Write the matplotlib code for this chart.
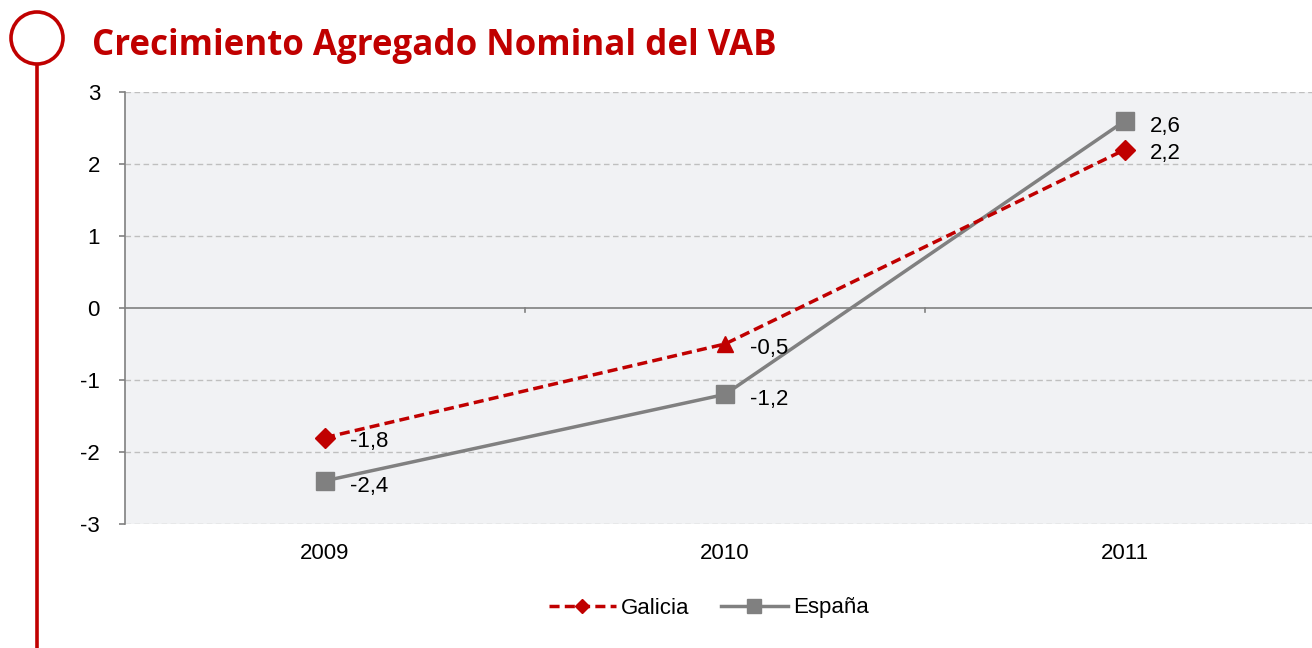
import matplotlib
matplotlib.use("Agg")
import matplotlib.pyplot as plt
from matplotlib.patches import Circle
from matplotlib.lines import Line2D

years = ["2009", "2010", "2011"]
galicia = [-1.8, -0.5, 2.2]
espana = [-2.4, -1.2, 2.6]
galicia_markers = ["D", "^", "D"]
yticks = [-3, -2, -1, 0, 1, 2, 3]

RED = "#C00000"
GRAY = "#808080"
FS = 16

plt.rcParams['font.family'] = ['Liberation Sans', 'DejaVu Sans']

W, H = 1312, 648
fig = plt.figure(figsize=(W / 100, H / 100), dpi=100)

# decoration
deco = fig.add_axes([0, 0, 1, 1], zorder=-1)
deco.set_xlim(0, W)
deco.set_ylim(H, 0)
deco.axis("off")
deco.add_patch(Circle((37, 38), 26, fill=False, edgecolor=RED, lw=2.6))
deco.plot([37, 37], [64, H], color=RED, lw=2.6, solid_capstyle="butt")
fig.text(92 / W, 1 - 55 / H, "Crecimiento Agregado Nominal del VAB",
         color=RED, fontsize=25.1, fontweight="bold", family="Open Sans",
         ha="left", va="baseline")

# main axes
left, right, top, bottom = 125, 1325, 92, 524
ax = fig.add_axes([left / W, 1 - bottom / H, (right - left) / W, (bottom - top) / H])
ax.set_facecolor("#F1F2F4")
x = list(range(len(years)))
ax.set_xlim(-0.5, len(years) - 0.5)
ax.set_ylim(-3, 3)
ax.set_yticks(yticks)
ax.set_yticklabels([str(v) for v in yticks], fontsize=FS)
ax.set_xticks([])
for s in ["top", "right", "bottom"]:
    ax.spines[s].set_visible(False)
ax.spines["left"].set_color(GRAY)
ax.spines["left"].set_linewidth(1.2)
ax.tick_params(axis="y", length=4, color=GRAY, width=1.2, pad=14)
for v in yticks:
    if v != 0:
        ax.axhline(v, color="#BFBFBF", lw=1, ls=(0, (4, 2.5)), zorder=1)
ax.axhline(0, color=GRAY, lw=1.2, zorder=2)
for b in [0.5, 1.5]:
    ax.plot([b, b], [0, -0.06], color=GRAY, lw=1.2, zorder=2)
for xi, yr in zip(x, years):
    ax.text(xi, -3.27, yr, ha="center", va="top", fontsize=FS)

# series
ax.plot(x, espana, color=GRAY, lw=2.5, marker="s", markersize=13,
        markerfacecolor=GRAY, markeredgecolor=GRAY, zorder=3)
ax.plot(x, galicia, color=RED, lw=2.5, ls=(0, (2.9, 1.5)), zorder=4)
for xi, v, m in zip(x, galicia, galicia_markers):
    ax.plot([xi], [v], marker=m, markersize=11 if m == "^" else 10,
            color=RED, zorder=5)

def fmt(v):
    return f"{v:.1f}".replace(".", ",")

for xi, v in zip(x, galicia):
    ax.annotate(fmt(v), (xi, v), xytext=(18, -3), textcoords="offset points",
                ha="left", va="center", fontsize=FS)
for xi, v in zip(x, espana):
    ax.annotate(fmt(v), (xi, v), xytext=(18, -4), textcoords="offset points",
                ha="left", va="center", fontsize=FS)

handles = [
    Line2D([], [], color=RED, lw=2.5, ls=(0, (2.9, 1.5)), marker="D", markersize=7),
    Line2D([], [], color=GRAY, lw=2.5, marker="s", markersize=9.5),
]
fig.legend(handles, ["Galicia", "España"], loc="center",
           bbox_to_anchor=(709 / W, 1 - 608 / H), ncol=2, frameon=False,
           fontsize=FS, handlelength=3.0, handletextpad=0.25, columnspacing=1.4)

fig.savefig("out.png", dpi=100)
